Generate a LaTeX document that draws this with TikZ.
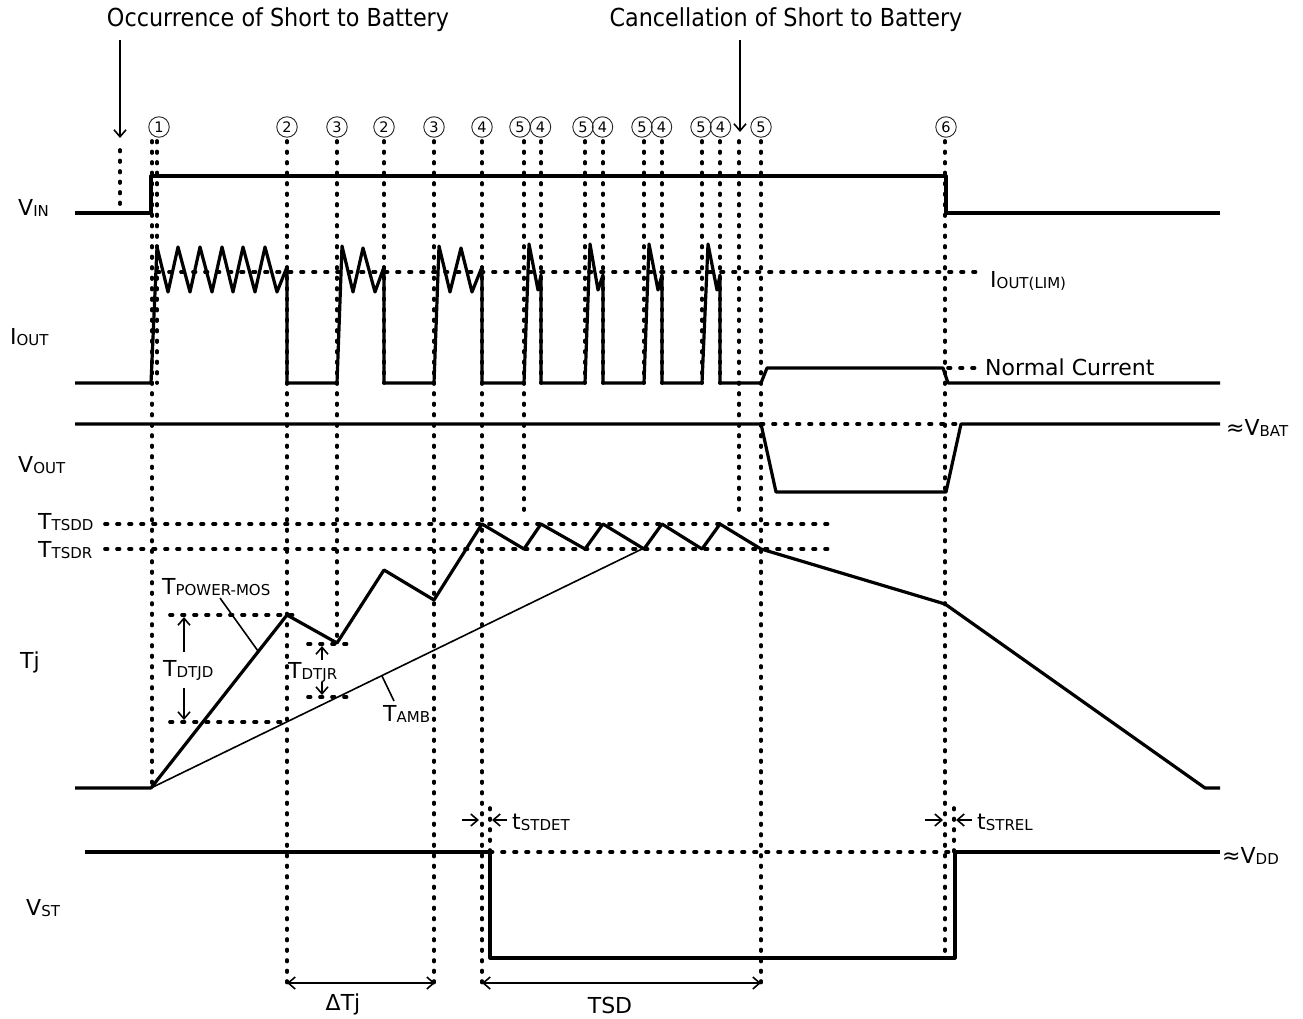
\documentclass[tikz,border=0pt]{standalone}
\usepackage{fontspec}
\setmainfont{DejaVu Sans}
\newfontfamily\condfont{DejaVu Sans Condensed}
\usetikzlibrary{arrows.meta}
\newcommand{\bigsub}[2]{{\fontsize{22}{25}\selectfont #1}\raisebox{-1pt}{\fontsize{15}{17}\selectfont #2}}
\tikzset{
  wave/.style={line width=3.2pt, line join=round},
  vdot/.style={line width=3.7pt, line cap=round, dash pattern=on 1.5pt off 9pt},
  hdot/.style={line width=3.7pt, line cap=round, dash pattern=on 2.5pt off 9.5pt},
  thinline/.style={line width=1.6pt},
  arr/.style={line width=1.6pt, -{Straight Barb[length=7pt,width=12pt,line width=1.6pt]}},
  darr/.style={line width=1.6pt, {Straight Barb[length=7pt,width=12pt,line width=1.6pt]}-{Straight Barb[length=7pt,width=12pt,line width=1.6pt]}},
  circ/.style={circle, draw=black!85, line width=0.9pt, minimum size=20.5pt, inner sep=0pt, font=\fontsize{14.5}{14.5}\selectfont},
  lab/.style={inner sep=0pt, anchor=west, font=\fontsize{22}{25}\selectfont},
}
\begin{document}
\begin{tikzpicture}[x=1pt,y=-1pt]
\useasboundingbox (0,0) rectangle (1303,1019);
% titles
\node[inner sep=0pt, font=\condfont\fontsize{24.8}{27}\selectfont] (occ) at (278,20) {Occurrence of Short to Battery};
\node[inner sep=0pt, font=\condfont\fontsize{24.8}{27}\selectfont] (can) at (786,20) {Cancellation of Short to Battery};
\coordinate (occtip) at (120,138);
\coordinate (cantip) at (740,132);
\draw[arr] (120,40) -- (occtip);
\draw[arr] (740,40) -- (cantip);
% circled numbers
\foreach \x/\n/\nm in {159/1/a, 287/2/b, 337/3/c, 384/2/d, 434/3/e, 482/4/f, 520/5/g, 540.5/4/h, 583/5/i, 602.5/4/j, 642/5/k, 661.5/4/l, 701/5/m, 720.5/4/n, 761/5/o, 946/6/p}
  \node[circ] (c\nm) at (\x,127) {\n};
% vertical dotted lines
\foreach \x/\a/\b in {120/150/212, 152/141/788, 157/141/383, 287/141/983, 337/141/645, 384/141/383, 434/141/983, 482/141/983, 524/141/513, 541/141/383, 585/141/383, 603/141/383, 644/141/383, 662/141/383, 702/141/383, 720/141/383, 739/141/513, 761/141/983, 945/141/958, 490/808/852, 954/808/852}
  \draw[vdot] (\x,\a) -- (\x,\b);
% horizontal dotted lines
\draw[hdot] (157,272) -- (978,272);
\draw[hdot] (948,368) -- (978,368);
\draw[hdot] (761,424) -- (958,424);
\draw[hdot] (105,524) -- (828,524);
\draw[hdot] (105,549) -- (828,549);
\draw[hdot] (170,615) -- (300,615);
\draw[hdot] (170,722) -- (287,722);
\draw[hdot] (308,644) -- (347,644);
\draw[hdot] (308,697) -- (347,697);
\draw[hdot] (490,852) -- (953,852);
% VIN
\draw[wave] (75,213) -- (151,213) -- (151,176) -- (946,176) -- (946,213) -- (1220,213);
% IOUT
\draw[wave] (75,383) -- (151,383) -- (157,247) -- (168,292) -- (178,247) -- (190,292) -- (200,247) -- (212,292) -- (222,247) -- (233,292) -- (243,247) -- (255,292) -- (265,247) -- (277,292) -- (287,267) -- (287,383)
  -- (337,383) -- (342,246) -- (353,292) -- (363,248) -- (375,292) -- (384,267) -- (384,383)
  -- (434,383) -- (439,246) -- (450,292) -- (461,248) -- (472,292) -- (482,267) -- (482,383)
  -- (524,383) -- (529,244) -- (538,290) -- (541,275) -- (541,383)
  -- (585,383) -- (590,244) -- (598,290) -- (603,275) -- (603,383)
  -- (644,383) -- (649,244) -- (658,290) -- (662,275) -- (662,383)
  -- (702,383) -- (708,244) -- (717,290) -- (720,275) -- (720,383)
  -- (761,383) -- (767,368) -- (943,368) -- (948,383) -- (1220,383);
% VOUT
\draw[wave] (75,424) -- (761,424) -- (776,492) -- (946,492) -- (961,424) -- (1220,424);
% Tj
\draw[wave] (75,788) -- (151,788) -- (287,615) -- (337,643) -- (384,570) -- (434,600) -- (482,524) -- (524,549) -- (541,524) -- (585,549) -- (603,524) -- (644,549) -- (662,524) -- (702,549) -- (720,524) -- (761,549) -- (945,604) -- (1205,788) -- (1220,788);
\draw[thinline] (151,788) -- (642,549);
% VST
\draw[wave] (85,852) -- (490,852) -- (490,958) -- (955,958) -- (955,852) -- (1220,852);
% left labels
\node[lab] (vin) at (18,208) {\bigsub{V}{IN}};
\node[lab] (iout) at (10,337) {\bigsub{I}{OUT}};
\node[lab] (vout) at (18,465) {\bigsub{V}{OUT}};
\node[lab] (tsdd) at (38,522) {\bigsub{T}{TSDD}};
\node[lab] (tsdr) at (38,550) {\bigsub{T}{TSDR}};
\node[lab] (tj) at (20,662) {Tj};
\node[lab] (vst) at (26,908) {\bigsub{V}{ST}};
% right labels
\node[lab] (ilim) at (990,281) {\bigsub{I}{OUT(LIM)}};
\node[lab] (ncur) at (985,367) {Normal Current};
\node[lab] (vbat) at (1226,428) {≈\bigsub{V}{BAT}};
\node[lab] (vdd) at (1222,856) {≈\bigsub{V}{DD}};
% Tj annotations
\node[lab] (tpm) at (162,587) {\bigsub{T}{POWER-MOS}};
\draw[thinline] (220,598) -- (258,651);
\node[lab] (tdtjd) at (163,670) {\bigsub{T}{DTJD}};
\draw[arr] (184,652) -- (184,617);
\draw[arr] (184,688) -- (184,720);
\node[lab] (tdtjr) at (288,672) {\bigsub{T}{DTJR}};
\draw[arr] (322,660) -- (322,646);
\draw[arr] (322,682) -- (322,695);
\node[lab] (tamb) at (383,714) {\bigsub{T}{AMB}};
\draw[thinline] (382,676) -- (394,701);
% VST annotations
\draw[arr] (462,820) -- (479,820);
\draw[arr] (507,820) -- (492,820);
\node[lab] (tdet) at (512,822) {\bigsub{t}{STDET}};
\draw[arr] (925,820) -- (943,820);
\draw[arr] (972,820) -- (956,820);
\node[lab] (trel) at (977,822) {\bigsub{t}{STREL}};
% bottom dimensions
\coordinate (dtl) at (287,983);
\coordinate (dtr) at (435,983);
\coordinate (tsl) at (482,983);
\coordinate (tsr) at (761,983);
\draw[darr] (dtl) -- (dtr);
\draw[darr] (tsl) -- (tsr);
\node[inner sep=0pt, font=\fontsize{22}{25}\selectfont] (dtj) at (343,1004) {ΔTj};
\node[inner sep=0pt, font=\fontsize{22}{25}\selectfont] (tsd) at (610,1005) {TSD};
\end{tikzpicture}
\end{document}
